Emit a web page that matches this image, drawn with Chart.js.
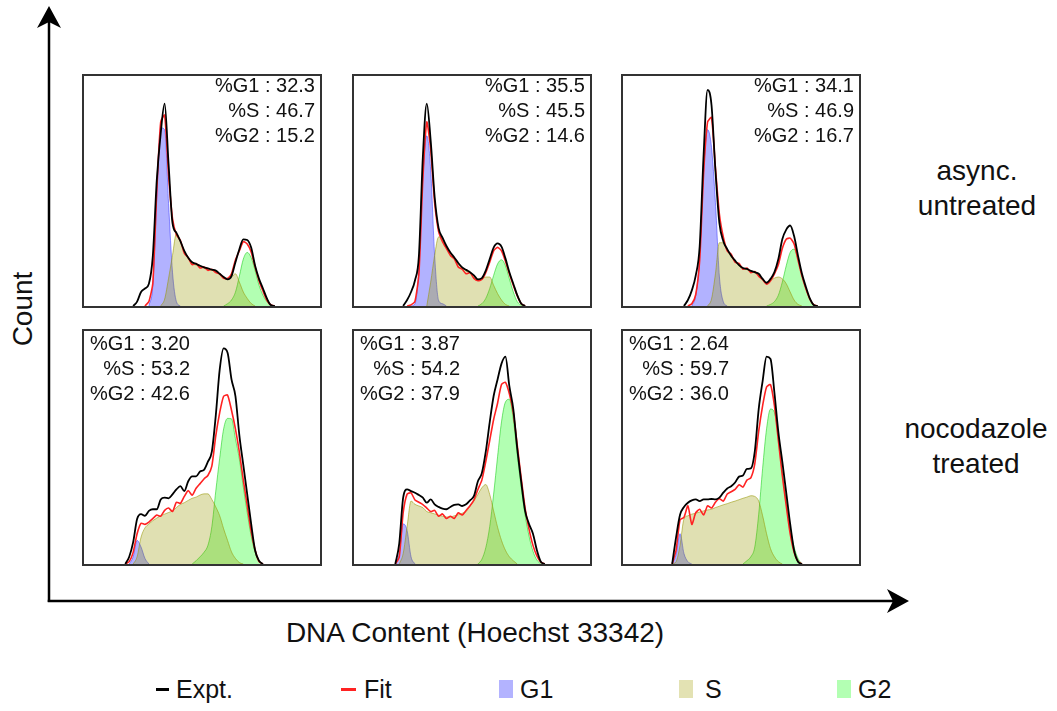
<!DOCTYPE html>
<html>
<head>
<meta charset="utf-8">
<script src="https://cdn.jsdelivr.net/npm/chart.js@4.4.1/dist/chart.umd.min.js"></script>
<style>
  body { margin: 0; background: #fff; }
  #fig { position: relative; width: 1057px; height: 711px; overflow: hidden;
         font-family: "Liberation Sans", Arial, sans-serif; color: #111; }
  .panel { position: absolute; border: 2px solid #333; box-sizing: border-box; background: #fff; }
  .panel canvas { position: absolute; left: 0; top: 0; }
  .stats { position: absolute; width: 200px; font-size: 20px; line-height: 25px; text-align: right; white-space: pre; }
  .lbl { position: absolute; font-size: 28px; white-space: nowrap; }
  .row-lbl { position: absolute; width: 200px; font-size: 28px; line-height: 35px; text-align: center; }
  .leg-sw { position: absolute; }
  .leg-txt { position: absolute; font-size: 25px; line-height: 30px; white-space: nowrap; }
</style>
</head>
<body>
<div id="fig">
  <svg width="1057" height="711" style="position:absolute;left:0;top:0">
    <line x1="49" y1="602" x2="49" y2="20" stroke="#000" stroke-width="2.5"/>
    <polygon points="49,6 61,28 49,22 37,28" fill="#000"/>
    <line x1="47.75" y1="601" x2="895" y2="601" stroke="#000" stroke-width="2.5"/>
    <polygon points="909,601 887,589 893,601 887,613" fill="#000"/>
  </svg>
  <div class="lbl" style="left:0;width:950px;text-align:center;top:617px;line-height:32px;">DNA Content (Hoechst 33342)</div>
  <div class="lbl" style="left:23px;top:309px;line-height:32px;transform:translate(-50%,-50%) rotate(-90deg);">Count</div>
  <div class="row-lbl" style="left:877px;top:153px;">async.<br>untreated</div>
  <div class="row-lbl" style="left:876px;top:411px;">nocodazole<br>treated</div>
</div>
<script>
// 60 bins of DNA content per panel; counts in % of panel height
const NBINS = 60;
const bins = Array.from({ length: NBINS }, (_, i) => i);

// async. untreated
const p1Start = { expt: 12, fit: 15, g1: 16, s: 19, g2: 35 };
const p1Expt = [0, 1.9, 6.1, 7.6, 9.7, 21.8, 54.6, 75, 88, 61.8, 36, 31.8, 28.2, 24, 21, 19, 18.3, 17.5, 16.8, 16.4, 15.8, 15.4, 14, 12.6, 11.6, 13, 19, 24.7, 29, 28.7, 25.4, 17.5, 11.8, 7.6, 3.3, 0.4, 0];
const p1Fit = [0, 2, 10, 50, 80, 83, 57, 38, 31, 28.5, 23, 21, 18, 18.5, 16.5, 17, 15.5, 16, 14.5, 14, 12, 12, 14, 20, 24, 28, 27, 23.5, 17, 11, 6.5, 2.5, 0.5, 0];
const p1G1 = [0, 9, 47.5, 77.5, 76.7, 44.6, 14.7, 1.9, 0];
const p1S = [0, 3, 12, 22, 31.5, 28.2, 24, 20.7, 18.5, 17.8, 17.3, 16.5, 16.1, 15.5, 15.3, 13.5, 12.1, 11.6, 12.6, 14, 10.4, 6.1, 3.3, 1.1, 0];
const p1G2 = [0, 1, 2.6, 6, 13, 20.4, 23.3, 21, 15.4, 9, 4.7, 1.9, 0.4, 0];

const p2Start = { expt: 12, fit: 13, g1: 14, s: 18, g2: 31 };
const p2Expt = [0, 2.6, 6.1, 11.1, 21.8, 64.6, 88, 71.8, 47.5, 34, 29.7, 26.1, 23.3, 21.1, 18.7, 16.8, 15.7, 14.7, 13.3, 11.6, 12.1, 15.4, 20.4, 25.4, 27.2, 25.8, 20.7, 14.7, 9.7, 4.7, 1.1, 0];
const p2Fit = [0, 0.5, 2, 14, 55, 80, 68, 45, 32.5, 28, 25, 22, 20.5, 17, 16, 14, 14.5, 12, 11, 11.5, 14.5, 19, 24, 25.5, 24, 19.5, 14, 9, 4.5, 1, 0];
const p2G1 = [0, 1, 16, 56, 74, 59, 22, 2.5, 1, 0];
const p2S = [0, 10.4, 22, 30, 29.2, 25.8, 23, 20.8, 18.4, 16.5, 15.4, 14.4, 13, 11.1, 11.6, 12.6, 12.6, 9, 5.4, 2.6, 0.7, 0];
const p2G2 = [0, 1, 3.3, 7.6, 13.3, 18.3, 20.1, 17.5, 11.8, 6.1, 1.9, 0.4, 0];

const p3Start = { expt: 15, fit: 16, g1: 17, s: 21, g2: 36 };
const p3Expt = [0, 2.6, 6.8, 13.3, 26.1, 66, 94, 87.4, 58.9, 36.1, 28.2, 24.7, 21.8, 19.7, 17.8, 16.5, 16.1, 15.3, 14.7, 14, 11.8, 10.1, 11.8, 14.7, 20.4, 29, 33.2, 35, 30.4, 21.8, 14, 8.3, 3.3, 0.4, 0];
const p3Fit = [0, 1, 5, 20, 58, 80, 82, 60, 40, 30, 24, 22.5, 19, 18.5, 16, 16.5, 14.5, 15, 13, 11.5, 9.5, 11, 14, 18, 25, 29, 29.5, 27, 20, 13, 7.5, 3, 0.5, 0];
const p3G1 = [0, 4.7, 21.8, 59, 76.7, 69, 45, 13, 1.9, 0];
const p3S = [0, 3, 14, 27.5, 27.5, 24.3, 21.4, 19.3, 17.5, 16.4, 15.8, 15, 14.4, 13.5, 11.4, 9.8, 11.1, 12.1, 12.6, 11.8, 9.7, 6.1, 2.6, 0.7, 0];
const p3G2 = [0, 0.7, 1.9, 4.7, 10.4, 17.5, 23.3, 24.7, 20.4, 13.3, 7.6, 3.3, 0.7, 0];

// nocodazole treated
const p4Start = { expt: 10, fit: 10, g1: 11, s: 12, g2: 27 };
const p4Expt = [0, 3.1, 9.4, 19.3, 21.4, 20.7, 22.8, 23.5, 23.5, 27.7, 28.5, 28.2, 29.9, 32, 33.4, 31.3, 35.5, 37.6, 37.6, 39.7, 40.4, 43.9, 48.2, 63.7, 83.4, 92.5, 90.7, 79.2, 72.1, 55.2, 42.5, 29.9, 17.2, 5.9, 1.4, 0];
const p4Fit = [0, 1, 5, 13, 17.5, 17, 18, 19.5, 21, 20.5, 23, 24, 22.5, 26.5, 26, 29, 31.5, 29.5, 32.5, 34.5, 36.5, 38, 42, 55, 65, 72, 72.5, 66, 58, 48, 36, 25, 14, 6, 1, 0];
const p4G1 = [0, 3.1, 10.1, 7.3, 2.4, 0];
const p4S = [0, 3.1, 11.5, 15.5, 17.2, 18.6, 19.7, 20.7, 21.4, 22.1, 22.8, 24.2, 25.6, 26.3, 27.3, 28.2, 28.7, 29.6, 30.1, 30.1, 27.7, 24.5, 20.7, 15.1, 10.1, 5.2, 2.4, 0.6, 0];
const p4G2 = [0, 1.4, 3.1, 5, 8, 16, 31.3, 45.4, 58, 62.5, 62.3, 53.8, 45, 33, 22, 12, 5, 1.4, 0];

const p5Start = { expt: 10, fit: 10, g1: 10, s: 11, g2: 31 };
const p5Expt = [0, 8.7, 28.5, 32, 31.3, 30.6, 29.6, 28.5, 26.3, 27.7, 25.6, 24.5, 23.8, 23.5, 24.5, 25.4, 25.6, 24.9, 25.6, 27.3, 29.2, 35.5, 39, 48.2, 60.8, 72.1, 79.2, 86, 89, 76.3, 66.5, 49.6, 35.5, 22.8, 17.2, 13, 5.9, 1, 0];
const p5Fit = [0, 3, 22, 30, 30.5, 27.5, 26.5, 25.5, 24, 22.5, 23, 20.5, 21.5, 19.5, 20.5, 19.5, 22, 21, 23, 25, 27.5, 32, 36, 44, 53, 62, 69, 77, 78, 73, 65, 51, 37, 24, 15, 8, 3.5, 0.8, 0];
const p5G1 = [0, 4.5, 17.2, 14.4, 3.1, 0];
const p5S = [0, 4.5, 16, 27, 25.6, 24.9, 24.2, 22.5, 22, 21.5, 21, 20.5, 20.2, 20.2, 20.7, 21.1, 21.8, 22.5, 24.9, 27, 29.9, 32.7, 34.1, 29.9, 22.8, 15.8, 10.1, 5.9, 3.1, 1.4, 0];
const p5G2 = [0, 2, 7, 16, 30, 46, 61, 69.5, 70.7, 62, 47, 33, 21, 12, 5.5, 1.7, 0];

const p6Start = { expt: 12, fit: 12, g1: 12, s: 12, g2: 30 };
const p6Expt = [0, 11.5, 21.1, 24.5, 26.3, 27.3, 27.7, 27, 27.7, 27.7, 27.9, 27.7, 28.5, 30.6, 32.4, 33.4, 35, 37.5, 38, 40.8, 41, 48.2, 66.5, 78.5, 89, 88, 73.5, 56.6, 43.9, 30.6, 17.2, 5.9, 1, 0];
const p6Fit = [0, 6, 19, 20, 25, 17, 22, 23.5, 21, 25, 24, 26.5, 28, 27, 30, 31, 32, 34, 33, 36, 37, 43, 57, 68, 76, 77, 68, 53, 38, 25, 13, 5, 1, 0];
const p6G1 = [0, 4, 13, 4.5, 1, 0];
const p6S = [0, 1, 8, 19.3, 20.7, 21.4, 21.8, 22.3, 22.8, 23.2, 23.5, 24.2, 24.8, 25.4, 25.9, 26.5, 27, 27.6, 28.2, 28.7, 29.3, 29, 27, 20.7, 13, 6.6, 3.1, 1, 0];
const p6G2 = [0, 1.4, 3.1, 7.3, 21.4, 41.1, 58, 66.5, 65, 55.2, 39.7, 27, 15.8, 7.3, 2.4, 0];

// fitted phase percentages
const pctG1 = ['32.3', '35.5', '34.1', '3.20', '3.87', '2.64'];
const pctS = ['46.7', '45.5', '46.9', '53.2', '54.2', '59.7'];
const pctG2 = ['15.2', '14.6', '16.7', '42.6', '37.9', '36.0'];

const legendLabels = ['Expt.', 'Fit', 'G1', 'S', 'G2'];

// place a series that starts at bin `start` into the full bin range
function place(start, values) {
    const out = new Array(NBINS).fill(null);
    values.forEach((v, k) => { out[start + k] = v; });
    return out;
}

const panels = [
    { st: p1Start, expt: p1Expt, fit: p1Fit, g1: p1G1, s: p1S, g2: p1G2 },
    { st: p2Start, expt: p2Expt, fit: p2Fit, g1: p2G1, s: p2S, g2: p2G2 },
    { st: p3Start, expt: p3Expt, fit: p3Fit, g1: p3G1, s: p3S, g2: p3G2 },
    { st: p4Start, expt: p4Expt, fit: p4Fit, g1: p4G1, s: p4S, g2: p4G2 },
    { st: p5Start, expt: p5Expt, fit: p5Fit, g1: p5G1, s: p5S, g2: p5G2 },
    { st: p6Start, expt: p6Expt, fit: p6Fit, g1: p6G1, s: p6S, g2: p6G2 }
];

const colLeft = [82, 352, 621];
const rowTop = [74, 329];
const rowHeight = [234, 237];
const PANEL_W = 240;

const fig = document.getElementById('fig');

panels.forEach((p, idx) => {
    const row = Math.floor(idx / 3);
    const col = idx % 3;
    const left = colLeft[col];
    const top = rowTop[row];
    const h = rowHeight[row];

    const box = document.createElement('div');
    box.className = 'panel';
    box.style.left = left + 'px';
    box.style.top = top + 'px';
    box.style.width = PANEL_W + 'px';
    box.style.height = h + 'px';
    const canvas = document.createElement('canvas');
    canvas.width = PANEL_W - 4;
    canvas.height = h - 4;
    box.appendChild(canvas);
    fig.appendChild(box);

    const fillSet = (label, data, bg, border) => ({
        label: label, data: data, backgroundColor: bg, borderColor: border,
        borderWidth: 1, pointRadius: 0, fill: 'origin', cubicInterpolationMode: 'monotone'
    });

    // index 0 is painted last, so S sits over G1/G2 and the lines on top
    new Chart(canvas, {
        type: 'line',
        data: {
            labels: bins,
            datasets: [
                { label: 'Expt.', data: place(p.st.expt, p.expt), borderColor: '#000', borderWidth: 1.8,
                  pointRadius: 0, fill: false, cubicInterpolationMode: 'monotone' },
                { label: 'Fit', data: place(p.st.fit, p.fit), borderColor: '#ff2222', borderWidth: 1.6,
                  pointRadius: 0, fill: false, tension: 0.2 },
                fillSet('S', place(p.st.s, p.s), 'rgba(153,153,0,0.3)', 'rgba(150,150,0,0.55)'),
                fillSet('G1', place(p.st.g1, p.g1), 'rgba(0,0,255,0.3)', 'rgba(40,40,255,0.5)'),
                fillSet('G2', place(p.st.g2, p.g2), 'rgba(0,255,0,0.3)', 'rgba(0,200,0,0.5)')
            ]
        },
        options: {
            responsive: false,
            animation: false,
            layout: { padding: 0 },
            plugins: { legend: { display: false }, tooltip: { enabled: false } },
            scales: {
                x: { display: false, offset: true },
                y: { display: false, min: 0, max: 100 }
            }
        }
    });

    const stats = document.createElement('div');
    stats.className = 'stats';
    const right = row === 0 ? left + PANEL_W - 7 : left + 108;
    stats.style.left = (right - 200) + 'px';
    stats.style.top = (row === 0 ? top - 1 : top + 2) + 'px';
    stats.textContent = '%G1 : ' + pctG1[idx] + '\n%S : ' + pctS[idx] + '\n%G2 : ' + pctG2[idx];
    fig.appendChild(stats);
});

// legend row
const legSwatch = [
    { x: 156, w: 13, h: 3, color: '#000' },
    { x: 341, w: 15, h: 3, color: '#ff2222' },
    { x: 499, w: 14, h: 18, color: '#b3b3ff' },
    { x: 679, w: 14, h: 18, color: '#e3e2b3' },
    { x: 837, w: 14, h: 18, color: '#b3ffb3' }
];
const legText = [176, 364, 520, 705, 858];
const LEG_Y = 689;
legendLabels.forEach((name, i) => {
    const sw = document.createElement('div');
    sw.className = 'leg-sw';
    sw.style.left = legSwatch[i].x + 'px';
    sw.style.top = (LEG_Y - legSwatch[i].h / 2) + 'px';
    sw.style.width = legSwatch[i].w + 'px';
    sw.style.height = legSwatch[i].h + 'px';
    sw.style.background = legSwatch[i].color;
    fig.appendChild(sw);
    const t = document.createElement('div');
    t.className = 'leg-txt';
    t.style.left = legText[i] + 'px';
    t.style.top = (LEG_Y - 15) + 'px';
    t.textContent = name;
    fig.appendChild(t);
});
</script>
</body>
</html>
